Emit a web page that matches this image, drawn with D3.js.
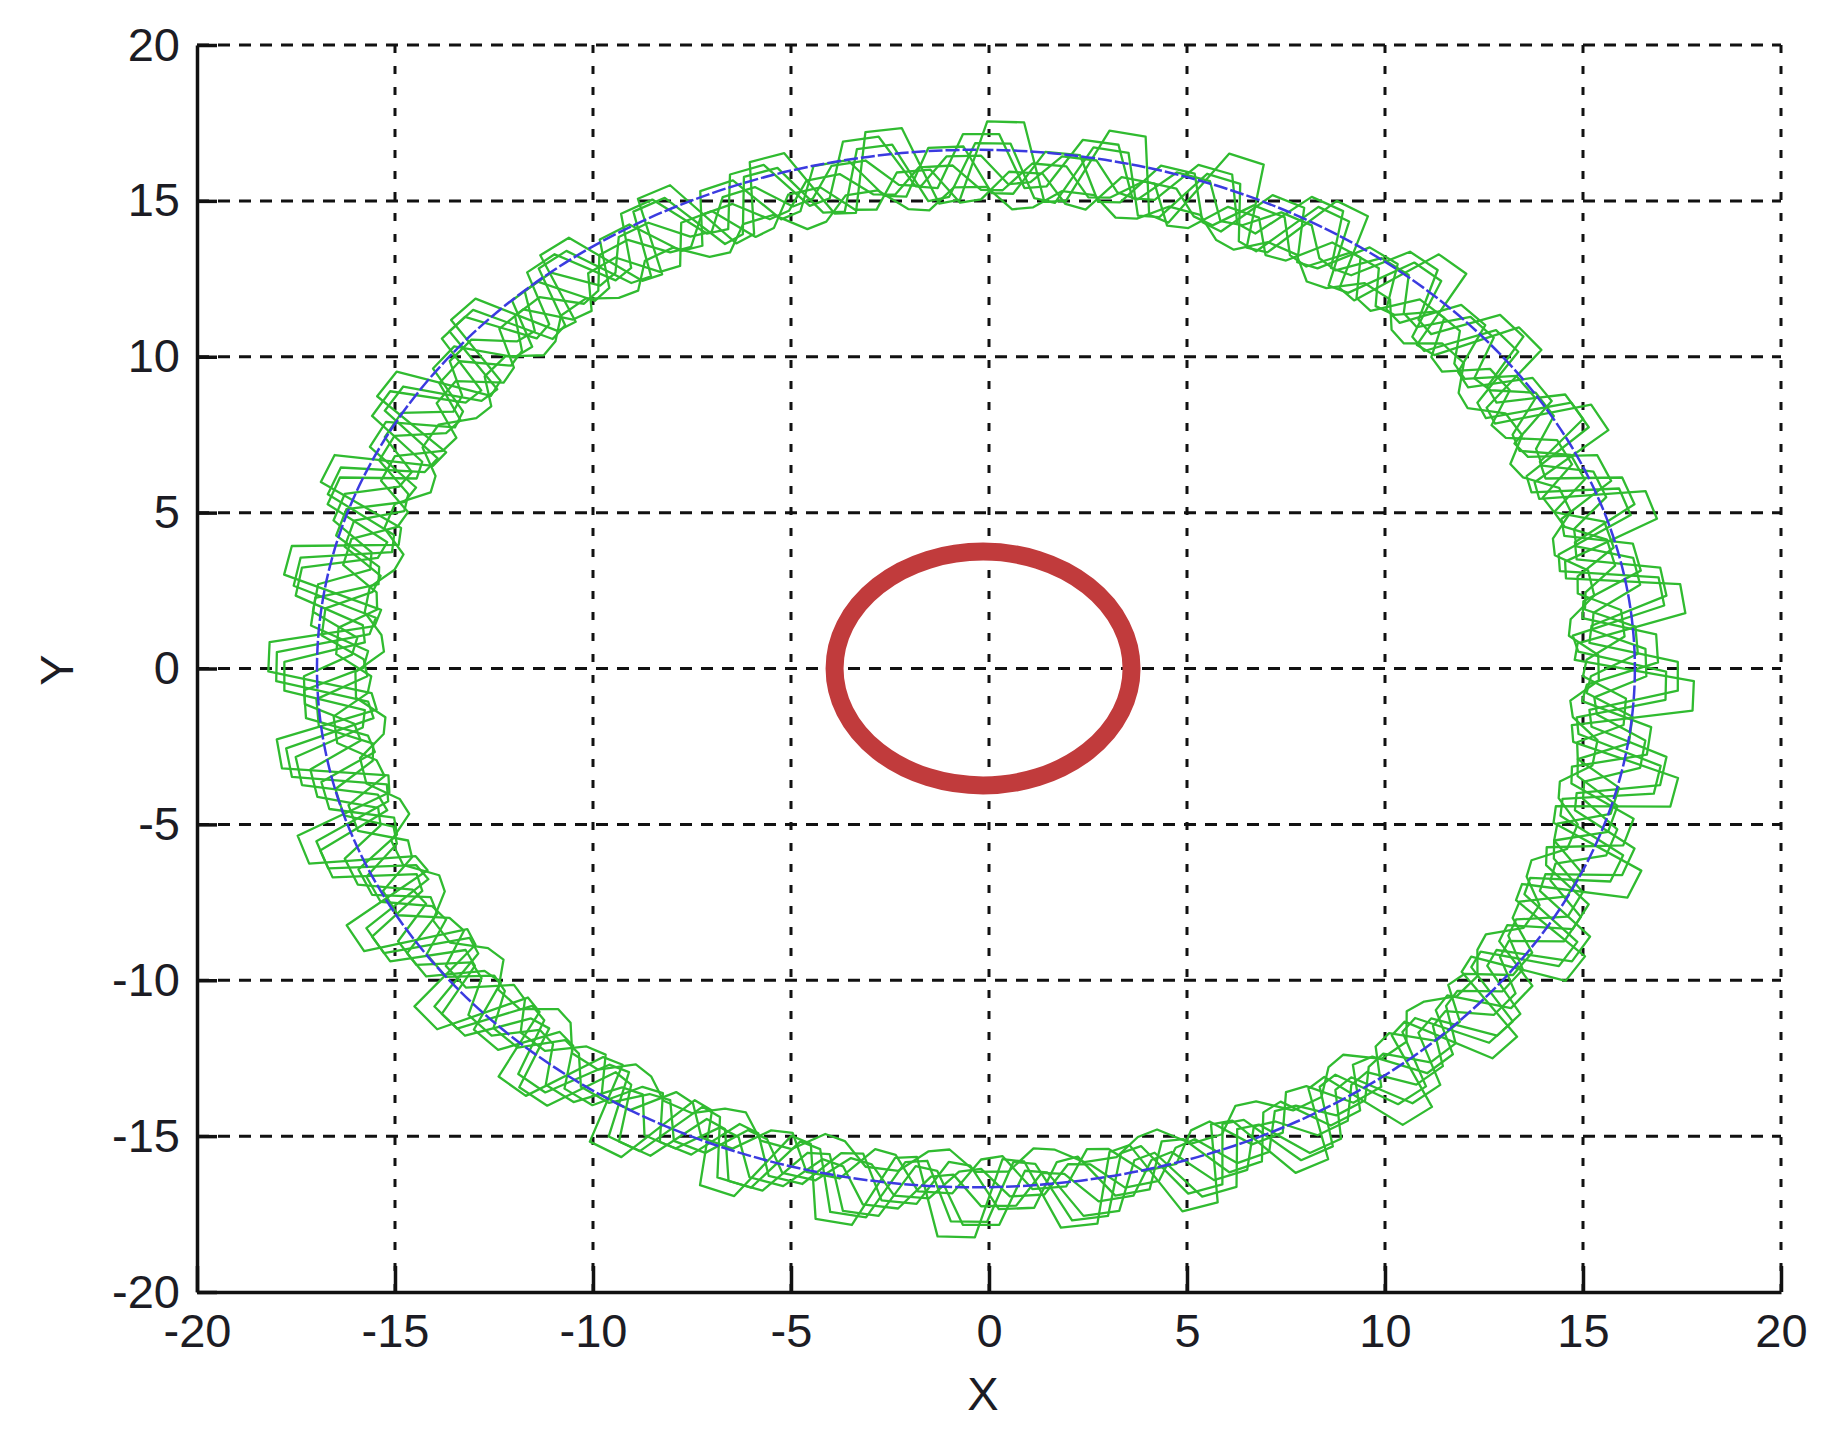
<!DOCTYPE html>
<html lang="en">

<head>
    <meta charset="UTF-8">
    <title>Trajectory</title>
    <style>
        body { margin: 0; background: #fff; }
        svg text { font-family: "Liberation Sans", Arial, sans-serif; fill: #1c1c24; }
    </style>
</head>

<body>
    <script src="https://cdn.jsdelivr.net/npm/d3@7"></script>
    <script>
        // tick values on both axes
        var xTicks = [-20, -15, -10, -5, 0, 5, 10, 15, 20];
        var yTicks = [-20, -15, -10, -5, 0, 5, 10, 15, 20];

        // blue reference circle and red inner circle: [cx, cy], radius
        var blueCenter = [-0.33, 0], blueRadius = 16.64;
        var redCenter = [-0.15, 0], redRadius = 3.75;

        // green trajectory, one array per revolution
        // each bump: [angle in degrees clockwise from top, inner radius, bump radius]
        var greenCenter = [-0.2, -0.25];
        var greenLoop1 = [
            [0, 15.3, 16.2], [10, 15.2, 16.4], [20, 15.3, 16.3], [30, 15.4, 16.5], [40, 15.3, 16.4], [50, 15.2, 16.2],
            [60, 15.3, 16.4], [70, 15.4, 16.5], [80, 15.3, 16.3], [90, 15.2, 16.3], [100, 15.3, 16.5], [110, 15.4, 16.4],
            [120, 15.5, 16.5], [130, 15.4, 16.4], [140, 15.5, 16.6], [150, 15.4, 16.5], [160, 15.5, 16.4], [170, 15.4, 16.5],
            [180, 15.5, 16.6], [190, 15.4, 16.5], [200, 15.5, 16.4], [210, 15.4, 16.5], [220, 15.5, 16.3], [230, 15.4, 16.4],
            [240, 15.5, 16.6], [250, 15.4, 16.5], [260, 15.5, 16.4], [270, 15.4, 16.3], [280, 15.5, 16.5], [290, 15.4, 16.4],
            [300, 15.3, 16.3], [310, 15.4, 16.5], [320, 15.3, 16.3], [330, 15.2, 16.4], [340, 15.3, 16.2], [350, 15.2, 16.3]
        ];
        var greenLoop2 = [
            [3, 15.5, 16.9], [13, 15.6, 17.0], [23, 15.5, 17.1], [33, 15.6, 16.9], [43, 15.5, 17.0], [53, 15.4, 16.9],
            [63, 15.5, 17.1], [73, 15.4, 17.0], [83, 15.3, 17.1], [93, 15.2, 17.0], [103, 15.3, 17.1], [113, 15.5, 17.0],
            [123, 15.6, 17.1], [133, 15.7, 17.0], [143, 15.6, 16.9], [153, 15.7, 17.1], [163, 15.6, 17.0], [173, 15.7, 17.1],
            [183, 15.6, 17.0], [193, 15.7, 16.9], [203, 15.6, 17.0], [213, 15.7, 16.9], [223, 15.6, 17.1], [233, 15.7, 17.0],
            [243, 15.6, 16.9], [253, 15.5, 17.0], [263, 15.6, 17.1], [273, 15.5, 17.0], [283, 15.6, 16.9], [293, 15.5, 17.1],
            [303, 15.6, 17.0], [313, 15.5, 16.9], [323, 15.6, 17.0], [333, 15.5, 17.1], [343, 15.6, 16.9], [353, 15.5, 17.0]
        ];
        var greenLoop3 = [
            [6, 15.8, 17.4], [16, 15.9, 17.3], [26, 15.8, 17.5], [36, 15.9, 17.4], [46, 15.8, 17.5], [56, 15.7, 17.3],
            [66, 15.6, 17.4], [76, 15.5, 17.5], [86, 15.4, 17.6], [96, 15.5, 17.5], [106, 15.6, 17.4], [116, 15.7, 17.5],
            [126, 15.8, 17.4], [136, 15.9, 17.5], [146, 16.0, 17.4], [156, 15.9, 17.6], [166, 16.0, 17.5], [176, 15.9, 17.6],
            [186, 15.8, 17.5], [196, 15.9, 17.4], [206, 15.8, 17.5], [216, 15.7, 17.6], [226, 15.8, 17.4], [236, 15.7, 17.5],
            [246, 15.6, 17.6], [256, 15.7, 17.5], [266, 15.6, 17.6], [276, 15.7, 17.5], [286, 15.6, 17.4], [296, 15.7, 17.5],
            [306, 15.6, 17.4], [316, 15.7, 17.3], [326, 15.8, 17.4], [336, 15.7, 17.3], [346, 15.8, 17.5], [356, 15.7, 17.4]
        ];
        var greenLoop4 = [
            [8, 15.4, 17.8], [18, 15.3, 17.9], [28, 15.4, 17.7], [38, 15.3, 17.8], [48, 15.4, 17.6], [58, 15.3, 17.7],
            [68, 15.2, 17.8], [78, 15.1, 17.9], [88, 15.0, 18.0], [98, 15.1, 17.9], [108, 15.2, 17.8], [118, 15.3, 17.7],
            [128, 15.4, 17.8], [138, 15.5, 17.9], [148, 15.6, 17.8], [158, 15.5, 17.9], [168, 15.6, 17.8], [178, 15.5, 18.0],
            [188, 15.6, 17.9], [198, 15.5, 17.8], [208, 15.4, 17.9], [218, 15.5, 17.7], [228, 15.4, 17.8], [238, 15.3, 17.9],
            [248, 15.4, 18.0], [258, 15.3, 17.9], [268, 15.4, 18.0], [278, 15.3, 17.9], [288, 15.4, 17.8], [298, 15.3, 17.7],
            [308, 15.4, 17.6], [318, 15.3, 17.5], [328, 15.2, 17.6], [338, 15.3, 17.5], [348, 15.2, 17.7], [358, 15.3, 17.8]
        ];
        var greenLoop5 = [
            [5, 15.1, 15.7], [15, 15.2, 15.8], [25, 15.1, 15.7], [35, 15.2, 15.9], [45, 15.1, 15.8], [55, 15.0, 15.7],
            [65, 15.1, 15.8], [75, 15.0, 15.7], [85, 14.9, 15.6], [95, 15.0, 15.7], [105, 15.1, 15.8], [115, 15.2, 15.9],
            [125, 15.3, 15.8], [135, 15.2, 15.9], [145, 15.3, 16.0], [155, 15.2, 15.9], [165, 15.3, 15.8], [175, 15.2, 15.9],
            [185, 15.3, 16.0], [195, 15.2, 15.9], [205, 15.3, 15.8], [215, 15.2, 15.9], [225, 15.1, 15.8], [235, 15.2, 15.9],
            [245, 15.1, 15.8], [255, 15.2, 15.9], [265, 15.1, 15.8], [275, 15.2, 15.7], [285, 15.1, 15.8], [295, 15.2, 15.9],
            [305, 15.1, 15.8], [315, 15.2, 15.7], [325, 15.1, 15.8], [335, 15.0, 15.7], [345, 15.1, 15.8], [355, 15.0, 15.7]
        ];
        var greenLoop6 = [
            [2, 15.6, 16.5], [12, 15.7, 16.4], [22, 15.6, 16.6], [32, 15.5, 16.5], [42, 15.6, 16.4], [52, 15.5, 16.6],
            [62, 15.4, 16.5], [72, 15.5, 16.4], [82, 15.4, 16.6], [92, 15.3, 16.5], [102, 15.4, 16.6], [112, 15.6, 16.7],
            [122, 15.7, 16.6], [132, 15.8, 16.8], [142, 15.9, 16.7], [152, 15.8, 16.9], [162, 15.9, 16.8], [172, 15.8, 16.7],
            [182, 15.9, 16.8], [192, 15.8, 16.7], [202, 15.7, 16.8], [212, 15.8, 16.6], [222, 15.7, 16.7], [232, 15.6, 16.6],
            [242, 15.7, 16.8], [252, 15.6, 16.7], [262, 15.5, 16.8], [272, 15.6, 16.7], [282, 15.5, 16.6], [292, 15.6, 16.7],
            [302, 15.5, 16.6], [312, 15.6, 16.5], [322, 15.7, 16.6], [332, 15.6, 16.4], [342, 15.7, 16.5], [352, 15.6, 16.4]
        ];
        var greenLoop7 = [
            [7, 15.3, 17.2], [17, 15.4, 17.1], [27, 15.3, 17.3], [37, 15.4, 17.2], [47, 15.3, 17.1], [57, 15.2, 17.3],
            [67, 15.1, 17.2], [77, 15.0, 17.4], [87, 15.1, 17.3], [97, 15.2, 17.4], [107, 15.3, 17.2], [117, 15.4, 17.3],
            [127, 15.5, 17.4], [137, 15.6, 17.3], [147, 15.7, 17.5], [157, 15.6, 17.4], [167, 15.7, 17.6], [177, 15.6, 17.5],
            [187, 15.7, 17.6], [197, 15.6, 17.4], [207, 15.5, 17.5], [217, 15.6, 17.3], [227, 15.5, 17.4], [237, 15.4, 17.5],
            [247, 15.5, 17.6], [257, 15.4, 17.7], [267, 15.5, 17.8], [277, 15.4, 17.6], [287, 15.5, 17.5], [297, 15.4, 17.3],
            [307, 15.3, 17.4], [317, 15.4, 17.2], [327, 15.3, 17.3], [337, 15.4, 17.1], [347, 15.3, 17.2], [357, 15.4, 17.1]
        ];
        var greenLoop8 = [
            [4.5, 15.9, 16.8], [14.5, 15.8, 16.9], [24.5, 15.9, 16.7], [34.5, 15.8, 16.8], [44.5, 15.7, 16.9], [54.5, 15.8, 16.7],
            [64.5, 15.7, 16.8], [74.5, 15.6, 16.9], [84.5, 15.5, 16.8], [94.5, 15.6, 16.9], [104.5, 15.7, 16.8], [114.5, 15.8, 17.0],
            [124.5, 15.9, 16.9], [134.5, 16.0, 17.1], [144.5, 16.1, 17.0], [154.5, 16.0, 17.2], [164.5, 16.1, 17.1], [174.5, 16.0, 17.0],
            [184.5, 16.1, 17.2], [194.5, 16.0, 17.1], [204.5, 15.9, 17.0], [214.5, 16.0, 17.1], [224.5, 15.9, 16.9], [234.5, 15.8, 17.0],
            [244.5, 15.9, 17.1], [254.5, 15.8, 17.2], [264.5, 15.9, 17.1], [274.5, 15.8, 17.0], [284.5, 15.9, 17.1], [294.5, 15.8, 16.9],
            [304.5, 15.9, 16.8], [314.5, 15.8, 16.9], [324.5, 15.9, 16.8], [334.5, 15.8, 16.7], [344.5, 15.9, 16.8], [354.5, 15.8, 16.7]
        ];
        var greenLoops = [greenLoop1, greenLoop2, greenLoop3, greenLoop4, greenLoop5, greenLoop6, greenLoop7, greenLoop8];

        var margin = { top: 45, right: 61, bottom: 157, left: 197 },
            width = 1842 - margin.left - margin.right,
            height = 1449 - margin.top - margin.bottom;

        var x = d3.scaleLinear().domain([-20, 20]).range([0, width]);
        var y = d3.scaleLinear().domain([-20, 20]).range([height, 0]);

        var svg = d3.select("body").append("svg")
            .attr("width", 1842)
            .attr("height", 1449)
            .style("display", "block");

        var g = svg.append("g")
            .attr("transform", "translate(" + margin.left + "," + margin.top + ")");

        // dashed grid
        g.selectAll(".vgrid")
            .data(xTicks.slice(1))
            .enter().append("line")
            .attr("x1", function (d) { return x(d); })
            .attr("x2", function (d) { return x(d); })
            .attr("y1", 0)
            .attr("y2", height)
            .style("stroke", "#111")
            .style("stroke-width", 3)
            .style("stroke-dasharray", "8,13");

        g.selectAll(".hgrid")
            .data(yTicks.slice(1))
            .enter().append("line")
            .attr("y1", function (d) { return y(d); })
            .attr("y2", function (d) { return y(d); })
            .attr("x1", 0)
            .attr("x2", width)
            .style("stroke", "#111")
            .style("stroke-width", 3)
            .style("stroke-dasharray", "12,9");

        // green trajectory: each bump steps out, runs flat, steps back in
        function bumpPoints(loop) {
            var pts = [];
            loop.forEach(function (d) {
                pts.push([d[0], d[1]]);
                pts.push([d[0] + 2.5, d[2]]);
                pts.push([d[0] + 5.5, d[2]]);
                pts.push([d[0] + 8, d[1]]);
            });
            return pts.map(function (p) {
                var q = d3.pointRadial(p[0] * Math.PI / 180, p[1]);
                return [greenCenter[0] + q[0], greenCenter[1] - q[1]];
            });
        }

        var line = d3.line()
            .x(function (d) { return x(d[0]); })
            .y(function (d) { return y(d[1]); })
            .curve(d3.curveLinearClosed);

        g.selectAll(".green")
            .data(greenLoops)
            .enter().append("path")
            .attr("d", function (d) { return line(bumpPoints(d)); })
            .style("fill", "none")
            .style("stroke", "#30bb30")
            .style("stroke-width", 2.3)
            .style("stroke-linejoin", "round");

        // blue circle
        g.append("ellipse")
            .attr("cx", x(blueCenter[0]))
            .attr("cy", y(blueCenter[1]))
            .attr("rx", x(blueCenter[0] + blueRadius) - x(blueCenter[0]))
            .attr("ry", y(blueCenter[1]) - y(blueCenter[1] + blueRadius))
            .style("fill", "none")
            .style("stroke", "#3b3be0")
            .style("stroke-width", 2.5)
            .style("stroke-dasharray", "14,3");

        // red circle
        g.append("ellipse")
            .attr("cx", x(redCenter[0]))
            .attr("cy", y(redCenter[1]))
            .attr("rx", x(redCenter[0] + redRadius) - x(redCenter[0]))
            .attr("ry", y(redCenter[1]) - y(redCenter[1] + redRadius))
            .style("fill", "none")
            .style("stroke", "#c13b3c")
            .style("stroke-width", 18);

        // axes, ticks pointing inward, plain hyphen minus in labels
        var fmt = function (d) { return String(d); };
        var xAxis = d3.axisBottom(x).tickValues(xTicks).tickFormat(fmt).tickSizeInner(-26).tickSizeOuter(0).tickPadding(22);
        var yAxis = d3.axisLeft(y).tickValues(yTicks).tickFormat(fmt).tickSizeInner(-20).tickSizeOuter(0).tickPadding(17);

        g.append("g")
            .attr("transform", "translate(0," + height + ")")
            .call(xAxis);

        g.append("g")
            .call(yAxis);

        g.selectAll(".domain, .tick line")
            .style("stroke", "#111")
            .style("stroke-width", 3.5);

        g.selectAll(".tick text")
            .style("font-size", "47px")
            .style("fill", "#1c1c24");

        svg.append("text")
            .attr("x", 983)
            .attr("y", 1410)
            .attr("text-anchor", "middle")
            .style("font-size", "47px")
            .text("X");

        svg.append("text")
            .attr("transform", "translate(73,670) rotate(-90)")
            .attr("text-anchor", "middle")
            .style("font-size", "47px")
            .text("Y");
    </script>
</body>

</html>
